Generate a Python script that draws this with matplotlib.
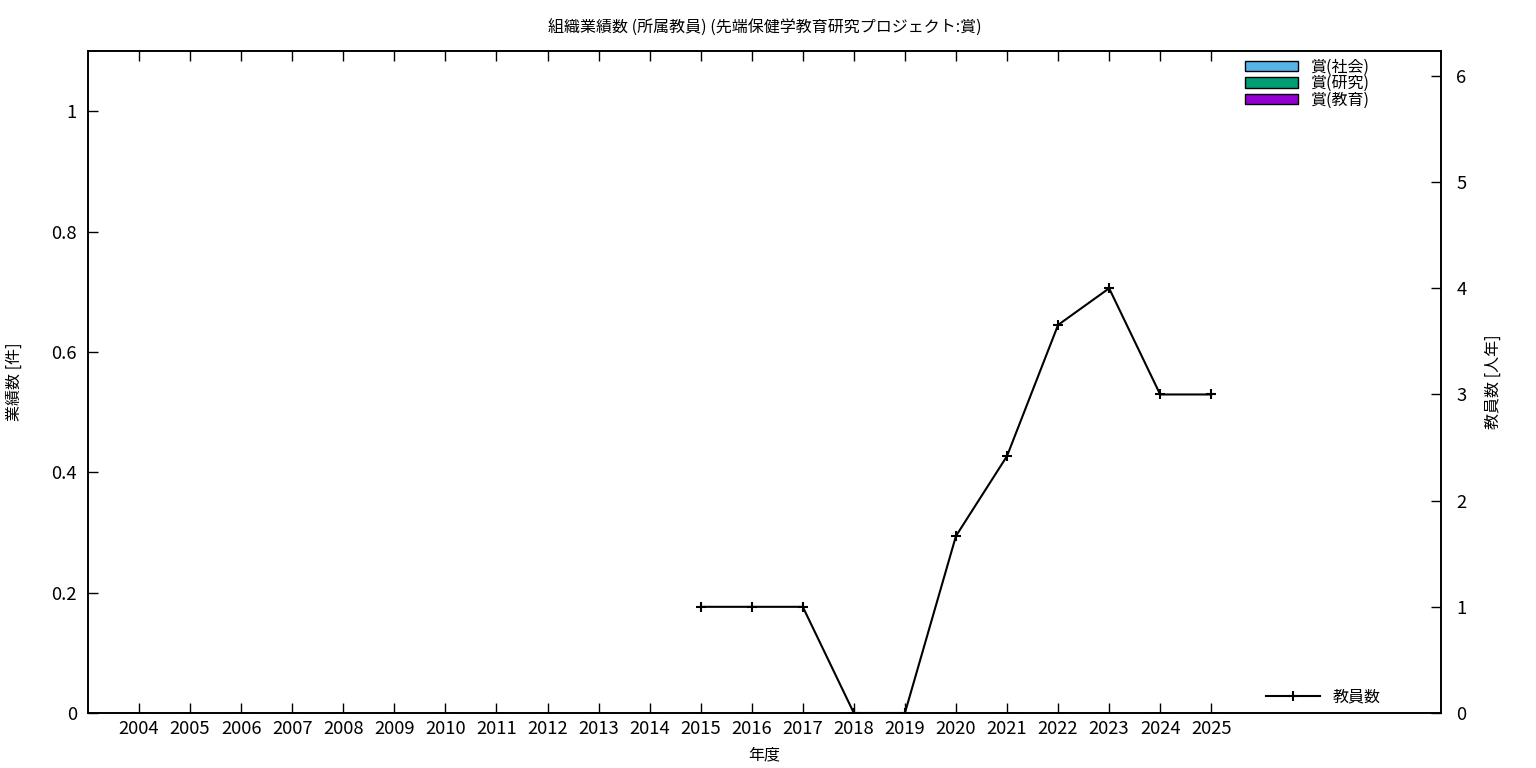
import matplotlib
matplotlib.use("Agg")
import matplotlib.pyplot as plt
import numpy as np

plt.rcParams['font.family'] = ['Noto Sans CJK JP', 'DejaVu Sans']

# データ
years = [str(y) for y in range(2004, 2026)]
award_social = [0] * len(years)
award_research = [0] * len(years)
award_education = [0] * len(years)
staff_years = ['2015', '2016', '2017', '2018', '2019', '2020', '2021', '2022', '2023', '2024', '2025']
staff_count = [1, 1, 1, 0, 0, 1.667, 2.42, 3.655, 4, 3, 3]

x = np.arange(len(years))
xs = [years.index(y) for y in staff_years]

fig = plt.figure(figsize=(15.36, 7.68), dpi=100)
ax = fig.add_axes([88 / 1536, 1 - 713 / 768, 1353 / 1536, 662 / 768])
ax2 = ax.twinx()

# 棒グラフ (積み上げ)
w = 0.5
b1 = ax.bar(x, award_social, w, color='#56b4e9', edgecolor='black', linewidth=1, label='賞(社会)')
b2 = ax.bar(x, award_research, w, bottom=award_social, color='#009e73', edgecolor='black',
            linewidth=1, label='賞(研究)')
bottom3 = np.array(award_social) + np.array(award_research)
b3 = ax.bar(x, award_education, w, bottom=bottom3, color='#9400d3', edgecolor='black',
            linewidth=1, label='賞(教育)')

# 教員数
ln, = ax2.plot(xs, staff_count, color='black', lw=1.5, marker='+', ms=7, mew=1.5, label='教員数')

ax.set_xlim(-1, 25.5)
ax.set_ylim(0, 1.1)
ax2.set_ylim(0, 6.235)
ax.set_xticks(x)
ax.set_xticklabels(years)
ax.set_yticks([0, 0.2, 0.4, 0.6, 0.8, 1])
ax.set_yticklabels(['0', '0.2', '0.4', '0.6', '0.8', '1'])
ax2.set_yticks(range(7))

ax.tick_params(axis='x', direction='in', top=True, length=7, width=1, labelsize=13.3, pad=5)
ax.tick_params(axis='y', direction='in', right=False, length=7, width=1, labelsize=13.3, pad=8)
ax2.tick_params(axis='y', direction='in', length=7, width=1, labelsize=13.3, pad=11)
for a in (ax, ax2):
    for s in a.spines.values():
        s.set_linewidth(1.2)

ax.set_title('組織業績数 (所属教員) (先端保健学教育研究プロジェクト:賞)', fontsize=11.5, pad=13)
ax.set_xlabel('年度', fontsize=11.5)
ax.xaxis.set_label_coords(0.5, -0.050)
ax.set_ylabel('業績数 [件]', fontsize=11.5)
ax.yaxis.set_label_coords(-0.048, 0.5)
ax2.set_ylabel('教員数 [人年]', fontsize=11.5)
ax2.yaxis.set_label_coords(1.0326, 0.5)

leg1 = ax2.legend(handles=[b1, b2, b3], loc='upper left', frameon=False, fontsize=11.5,
                  bbox_to_anchor=(1245 / 1536, 1 - 59 / 768), bbox_transform=fig.transFigure,
                  borderpad=0, borderaxespad=0, handlelength=3.3, handleheight=0.6,
                  handletextpad=0.75, labelspacing=-0.05)
ax2.add_artist(leg1)
ax2.legend(handles=[ln], loc='center left', frameon=False, fontsize=11.5,
           bbox_to_anchor=(1266 / 1536, 1 - 697 / 768), bbox_transform=fig.transFigure,
           borderpad=0, borderaxespad=0, handlelength=3.4, handletextpad=0.75)

fig.savefig('out.png', dpi=100)
